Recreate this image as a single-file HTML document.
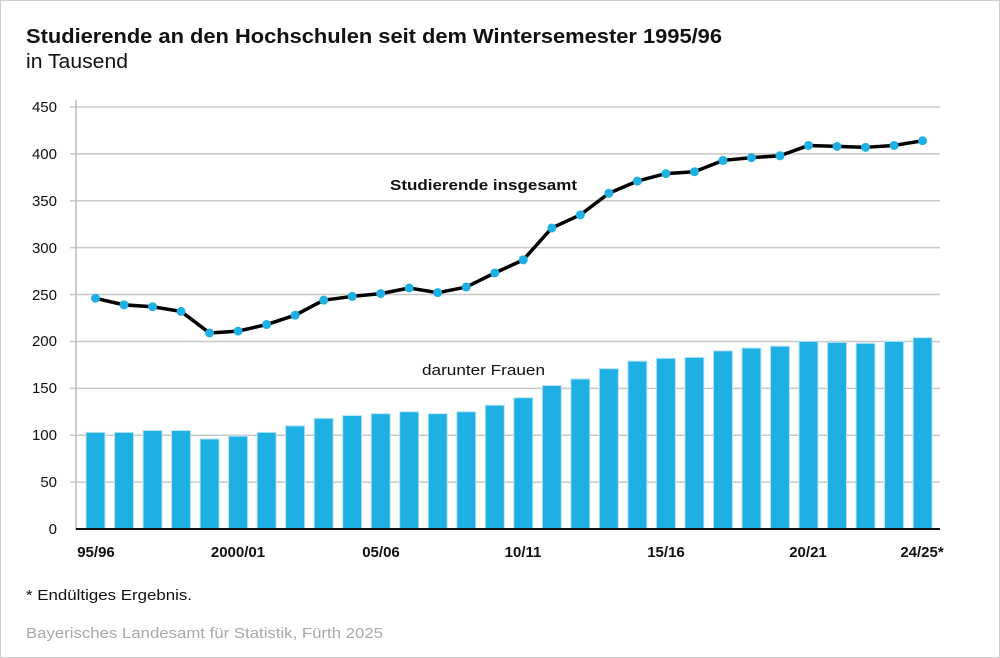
<!DOCTYPE html>
<html><head><meta charset="utf-8"><style>
body{margin:0;background:#fff}
#c{position:relative;width:998px;height:656px;border:1px solid #ccc;font-family:"Liberation Sans",sans-serif;overflow:hidden}
</style></head><body><div id="c">
<svg width="1000" height="658" style="position:absolute;left:-1px;top:-1px" font-family="Liberation Sans, sans-serif">
<text x="26" y="43" font-size="20" font-weight="bold" fill="#111" textLength="696" lengthAdjust="spacingAndGlyphs">Studierende an den Hochschulen seit dem Wintersemester 1995/96</text>
<text x="26" y="68" font-size="20" fill="#111" textLength="102" lengthAdjust="spacingAndGlyphs">in Tausend</text>
<g id="grid" stroke="#c8c8c8" stroke-width="1.5"></g>
<line x1="76" y1="100" x2="76" y2="530" stroke="#bbb" stroke-width="1.5"/>
<g id="ylab" font-size="15" fill="#111" text-anchor="end">
<text x="57" y="534">0</text><text x="57" y="487">50</text><text x="57" y="440">100</text><text x="57" y="393">150</text><text x="57" y="346">200</text><text x="57" y="300">250</text><text x="57" y="253">300</text><text x="57" y="206">350</text><text x="57" y="159">400</text><text x="57" y="112">450</text>
</g>
<g id="bars" fill="#1fb0e3" stroke="#b9e3f5" stroke-width="1"></g>
<line x1="76" y1="529" x2="940" y2="529" stroke="#111" stroke-width="2"/>
<polyline id="ln" fill="none" stroke="#000" stroke-width="3.5" stroke-linejoin="round"/>
<g id="dots" fill="#1fb0e3"></g>
<text x="390" y="190" font-size="15" font-weight="bold" fill="#111" textLength="187" lengthAdjust="spacingAndGlyphs">Studierende insgesamt</text>
<text x="422" y="375" font-size="15" fill="#111" textLength="123" lengthAdjust="spacingAndGlyphs">darunter Frauen</text>
<g font-size="15" font-weight="bold" fill="#111" text-anchor="middle">
<text x="96" y="557">95/96</text><text x="238" y="557">2000/01</text><text x="381" y="557">05/06</text><text x="523" y="557">10/11</text><text x="666" y="557">15/16</text><text x="808" y="557">20/21</text><text x="922" y="557">24/25*</text>
</g>
<text x="26" y="600" font-size="15" fill="#111" textLength="166" lengthAdjust="spacingAndGlyphs">* Endültiges Ergebnis.</text>
<text x="26" y="638" font-size="15" fill="#a8a8a8" textLength="357" lengthAdjust="spacingAndGlyphs">Bayerisches Landesamt für Statistik, Fürth 2025</text>
</svg>
<script>
var ns="http://www.w3.org/2000/svg";
function y(v){return 529-0.9378*v}
var g=document.getElementById('grid');
for(var k=1;k<=9;k++){var l=document.createElementNS(ns,'line');l.setAttribute('x1',70);l.setAttribute('x2',940);l.setAttribute('y1',y(k*50));l.setAttribute('y2',y(k*50));g.appendChild(l);}
var B=[103,103,105,105,96,99,103,110,118,121,123,125,123,125,132,140,153,160,171,179,182,183,190,193,195,200,199,198,200,204];
var L=[246,239,237,232,209,211,218,228,244,248,251,257,252,258,273,287,321,335,358,371,379,381,393,396,398,409,408,407,409,414];
var bg=document.getElementById('bars'),dg=document.getElementById('dots'),pts=[];
for(var i=0;i<30;i++){var x=95.5+28.52*i;
var r=document.createElementNS(ns,'rect');r.setAttribute('x',x-9.5);r.setAttribute('width',19);r.setAttribute('y',y(B[i]));r.setAttribute('height',529-y(B[i]));bg.appendChild(r);
pts.push(x+','+y(L[i]));
var c=document.createElementNS(ns,'circle');c.setAttribute('cx',x);c.setAttribute('cy',y(L[i]));c.setAttribute('r',4.5);dg.appendChild(c);}
document.getElementById('ln').setAttribute('points',pts.join(' '));
</script>
</div></body></html>
